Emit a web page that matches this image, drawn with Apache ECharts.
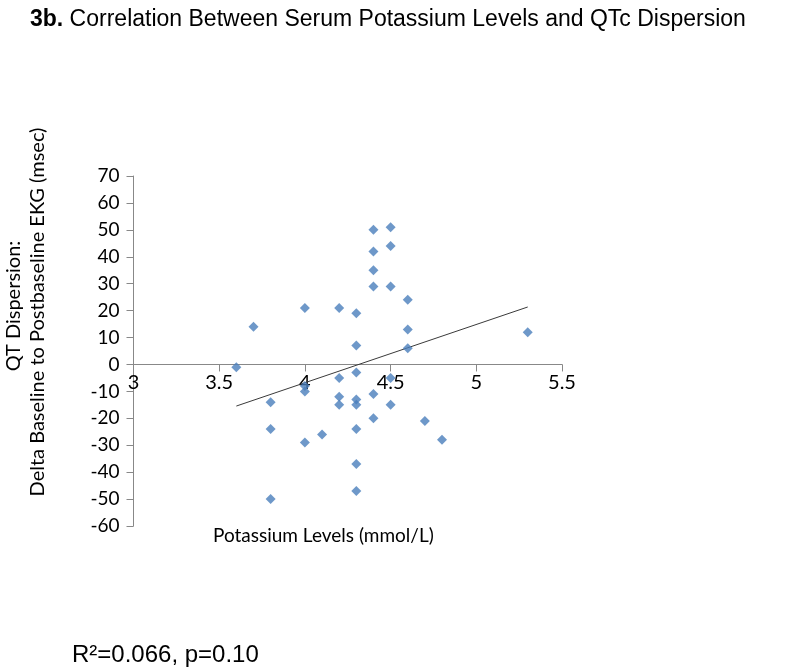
<!DOCTYPE html>
<html>
<head>
<meta charset="utf-8">
<script src="https://cdn.jsdelivr.net/npm/echarts@6/dist/echarts.min.js"></script>
<style>html,body{margin:0;padding:0;background:#fff}#c{width:800px;height:672px}</style>
</head>
<body>
<div id="c"></div>
<script>
var potassium = [4.4,4.5,4.4,4.5,4.4,4.4,4.5,4.0,4.2,4.3,3.7,4.3,3.6,4.3,4.2,4.0,4.0,4.2,4.2,4.3,4.3,4.4,4.4,3.8,3.8,4.0,4.1,4.3,4.3,4.3,3.8,4.5,4.5,4.6,4.6,4.6,5.3,4.7,4.8];
var qtDelta   = [50,51,42,44,35,29,29,21,21,19,14,7,-1,-3,-5,-8,-10,-12,-15,-13,-15,-11,-20,-14,-24,-29,-26,-24,-37,-47,-50,-5,-15,24,13,6,12,-21,-28];
var titleBold = '3b.';
var titleText = 'Correlation Between Serum Potassium Levels and QTc Dispersion';
var xAxisName = 'Potassium Levels (mmol/L)';
var yAxisName1 = 'QT Dispersion:';
var yAxisName2 = 'Delta Baseline to Postbaseline EKG (msec)';
var statsText = 'R\u00B2=0.066, p=0.10';

// least-squares trendline from the data
var n = potassium.length, mx = 0, my = 0;
for (var i = 0; i < n; i++) { mx += potassium[i]; my += qtDelta[i]; }
mx /= n; my /= n;
var sxy = 0, sxx = 0;
for (var i = 0; i < n; i++) { sxy += (potassium[i]-mx)*(qtDelta[i]-my); sxx += (potassium[i]-mx)*(potassium[i]-mx); }
var slope = sxy/sxx, icpt = my - slope*mx;
var xmin = Math.min.apply(null, potassium), xmax = Math.max.apply(null, potassium);
var trend = [[xmin, icpt + slope*xmin], [xmax, icpt + slope*xmax]];

var pts = potassium.map(function(x, i){ return [x, qtDelta[i]]; });

var axisFont = 'Lato, "Open Sans", sans-serif';
var arial = '"Liberation Sans", Arial, sans-serif';
var gridTop = 176, gridBottom = 146, H = 672;
var chart = echarts.init(document.getElementById('c'), null, {renderer: 'canvas'});
chart.setOption({
  animation: false,
  backgroundColor: '#ffffff',
  title: {
    text: '{b|' + titleBold + '} ' + titleText,
    left: 30, top: 8, padding: 0,
    textStyle: {
      fontFamily: arial, fontSize: 23, fontWeight: 'normal', color: '#000',
      rich: { b: { fontFamily: arial, fontSize: 23, fontWeight: 'bold', color: '#000' } }
    }
  },
  grid: { left: 133.5, right: 238, top: gridTop, bottom: gridBottom },
  xAxis: {
    type: 'value', min: 3, max: 5.5, interval: 0.5,
    axisLine: { onZero: false, lineStyle: { color: '#888888', width: 1 } },
    axisTick: { show: true, inside: false, length: 7, lineStyle: { color: '#888888' } },
    axisLabel: { fontFamily: axisFont, fontSize: 20, color: '#000', margin: 8 },
    splitLine: { show: false }
  },
  yAxis: {
    type: 'value', min: -60, max: 70, interval: 10,
    axisLine: { show: true, lineStyle: { color: '#888888', width: 1 } },
    axisTick: { show: true, inside: false, length: 7, lineStyle: { color: '#888888' } },
    axisLabel: { fontFamily: axisFont, fontSize: 19, color: '#000', margin: 14 },
    splitLine: { show: false }
  },
  series: [
    {
      type: 'scatter', data: pts, symbol: 'diamond', symbolSize: 10,
      itemStyle: { color: '#4A7EBB' }, z: 3
    },
    {
      type: 'line', data: trend, showSymbol: false, symbol: 'none',
      lineStyle: { color: '#3a3a3a', width: 1 }, z: 2
    }
  ],
  graphic: [
    { type: 'text', left: 213, top: 526, style: { text: xAxisName, font: '19px ' + axisFont, fill: '#000' } },
    { type: 'text', x: 14, y: 306, rotation: Math.PI/2, style: { text: yAxisName1, font: '20px ' + axisFont, fill: '#000', align: 'center', verticalAlign: 'middle' } },
    { type: 'text', x: 38, y: 312, rotation: Math.PI/2, style: { text: yAxisName2, font: '20px ' + axisFont, fill: '#000', align: 'center', verticalAlign: 'middle' } },
    { type: 'text', left: 72, top: 643, style: { text: statsText, font: '24px ' + arial, fill: '#000' } }
  ]
});
// place the x axis (line, ticks, labels) where y = 0, using the library's scale
var zeroY = chart.convertToPixel({ yAxisIndex: 0 }, 0);
var bottomY = H - gridBottom;
chart.setOption({ xAxis: { offset: -(bottomY - zeroY) } });
</script>
</body>
</html>
